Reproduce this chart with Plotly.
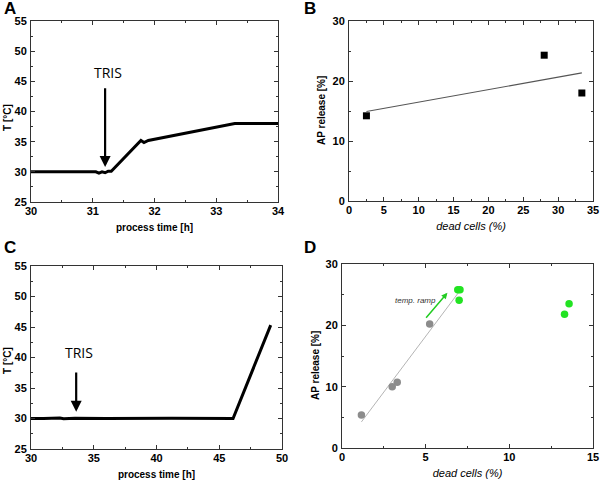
import numpy as np
import plotly.graph_objects as go

# ---- data ----
# Panel A: temperature profile
time_a = [30.0, 31.05, 31.1, 31.15, 31.2, 31.25, 31.3, 31.78, 31.83, 31.9, 33.3, 34.0]
temp_a = [30.0, 30.0, 29.8, 30.0, 29.85, 30.1, 30.1, 35.2, 34.85, 35.2, 38.0, 38.0]
tris_a = 31.2

# Panel B: AP release vs dead cells
dead_b = [2.5, 28.0, 33.4]
ap_b = [14.2, 24.3, 18.0]

# Panel C: temperature profile
time_c = [30.0, 30.5, 31.0, 32.3, 32.6, 33.5, 36.0, 41.2, 42.0, 44.8, 45.3, 46.1, 49.1]
temp_c = [30.0, 30.05, 30.0, 30.08, 29.95, 30.05, 30.0, 30.05, 30.05, 30.08, 30.0, 30.0, 45.3]
tris_c = 33.6

# Panel D: AP release vs dead cells
dead_d_grey = [1.16, 3.0, 3.3, 5.24]
ap_d_grey = [5.4, 10.0, 10.7, 20.2]
dead_d_green = [6.92, 7.05, 7.0, 13.3, 13.57]
ap_d_green = [25.8, 25.8, 24.1, 21.8, 23.5]

# ---- fits ----
pb = np.polyfit(dead_b, ap_b, 1)
fit_b_x = [min(dead_b), max(dead_b)]
fit_b_y = list(np.polyval(pb, fit_b_x))

pd_ = np.polyfit(dead_d_grey, ap_d_grey, 1)
fit_d_x = [min(dead_d_grey), dead_d_green[2]]
fit_d_y = list(np.polyval(pd_, fit_d_x))

FONT = "Liberation Sans, Arial, sans-serif"
fig = go.Figure()

fig.add_trace(go.Scatter(x=time_a, y=temp_a, mode="lines", line=dict(color="black", width=3),
                         xaxis="x", yaxis="y", showlegend=False))
fig.add_trace(go.Scatter(x=fit_b_x, y=fit_b_y, mode="lines", line=dict(color="#555555", width=1.1),
                         xaxis="x2", yaxis="y2", showlegend=False))
fig.add_trace(go.Scatter(x=dead_b, y=ap_b, mode="markers",
                         marker=dict(symbol="square", size=7, color="black"),
                         xaxis="x2", yaxis="y2", showlegend=False))
fig.add_trace(go.Scatter(x=time_c, y=temp_c, mode="lines", line=dict(color="black", width=3),
                         xaxis="x3", yaxis="y3", showlegend=False))
fig.add_trace(go.Scatter(x=fit_d_x, y=fit_d_y, mode="lines", line=dict(color="#b5b5b5", width=1),
                         xaxis="x4", yaxis="y4", showlegend=False))
fig.add_trace(go.Scatter(x=dead_d_grey, y=ap_d_grey, mode="markers",
                         marker=dict(symbol="circle", size=7.5, color="#8c8c8c"),
                         xaxis="x4", yaxis="y4", showlegend=False))
fig.add_trace(go.Scatter(x=dead_d_green, y=ap_d_green, mode="markers",
                         marker=dict(symbol="circle", size=7.5, color="#22e322"),
                         xaxis="x4", yaxis="y4", showlegend=False))

W, H = 600, 485
def dom_x(a, b):
    return [a / W, b / W]
def dom_y(top, bot):
    return [1 - bot / H, 1 - top / H]

tickfont = dict(family=FONT, size=11, color="black", weight="bold")

def axis(domain, anchor, rng, dtick, mdtick, title=None, tfont=None, standoff=2, lstand=0):
    d = dict(domain=domain, anchor=anchor, range=rng, dtick=dtick, tick0=0,
             ticks="inside", ticklen=4, tickwidth=1, tickcolor="#333",
             minor=dict(dtick=mdtick, ticks="inside", ticklen=2, tickcolor="#333"),
             showline=True, linecolor="#333", linewidth=1, mirror="allticks",
             showgrid=False, zeroline=False, tickfont=tickfont, ticklabelstandoff=lstand,
             ticklabeloverflow="allow", automargin=False)
    if title:
        d["title"] = dict(text=title, font=tfont, standoff=standoff)
    return d

bold_title = dict(family=FONT, size=10, color="black", weight="bold")
ital_title = dict(family=FONT, size=11, color="black", style="italic")

fig.update_layout(
    width=W, height=H, margin=dict(l=0, r=0, t=0, b=0),
    paper_bgcolor="white", plot_bgcolor="white",
    xaxis=axis(dom_x(31, 278), "y", [30, 34], 1, 0.5, "process time [h]", bold_title, 7, -1),
    yaxis=axis(dom_y(21, 202), "x", [25, 55], 5, 2.5, lstand=1),
    xaxis2=axis(dom_x(349, 593), "y2", [0, 35], 5, 2.5, "dead cells (%)", ital_title, 7, -1),
    yaxis2=axis(dom_y(21, 201), "x2", [0, 30], 10, 5, lstand=1),
    xaxis3=axis(dom_x(31, 282), "y3", [30, 50], 5, 2.5, "process time [h]", bold_title, 7, -1),
    yaxis3=axis(dom_y(266, 449), "x3", [25, 55], 5, 2.5, lstand=1),
    xaxis4=axis(dom_x(342, 593), "y4", [0, 15], 5, 2.5, "dead cells (%)", ital_title, 7, -1),
    yaxis4=axis(dom_y(264, 448), "x4", [0, 30], 10, 5, lstand=1),
)

ann = []
# y-axis titles
for txt, px, py in [("T [°C]", 7, 118), ("AP release [%]", 322, 111),
                    ("T [°C]", 7, 361), ("AP release [%]", 315, 366)]:
    ann.append(dict(x=px / W, y=1 - py / H, xref="paper", yref="paper", xanchor="center", yanchor="middle",
                    text=txt, textangle=-90, showarrow=False, font=bold_title))
# TRIS arrows
ann.append(dict(x=tris_a, y=30.8, ax=tris_a, ay=44.1, xref="x", yref="y", axref="x", ayref="y",
                showarrow=True, arrowhead=2, arrowsize=1, arrowwidth=2.2, arrowcolor="black", text=""))
ann.append(dict(x=31.25, y=46.5, xref="x", yref="y", text="TRIS", showarrow=False,
                font=dict(family="Open Sans, sans-serif", size=14, color="black")))
ann.append(dict(x=tris_c, y=31.1, ax=tris_c, ay=37.8, xref="x3", yref="y3", axref="x3", ayref="y3",
                showarrow=True, arrowhead=2, arrowsize=1, arrowwidth=2.2, arrowcolor="black", text=""))
ann.append(dict(x=33.8, y=40.8, xref="x3", yref="y3", text="TRIS", showarrow=False,
                font=dict(family="Open Sans, sans-serif", size=14, color="black")))
# temp. ramp arrow
ann.append(dict(x=6.3, y=25.3, ax=4.95, ay=21.0, xref="x4", yref="y4", axref="x4", ayref="y4",
                showarrow=True, arrowhead=2, arrowsize=0.8, arrowwidth=1.5, arrowcolor="#22cc22", text=""))
ann.append(dict(x=4.4, y=24.1, xref="x4", yref="y4", text="temp. ramp", showarrow=False,
                font=dict(family=FONT, size=8, color="#333", style="italic")))
# panel letters
for letter, px, py in [("A", 2, 8), ("B", 302, 8), ("C", 2, 248), ("D", 302, 248)]:
    ann.append(dict(x=px / W, y=1 - py / H, xref="paper", yref="paper", xanchor="left", yanchor="middle",
                    text="<b>%s</b>" % letter, showarrow=False,
                    font=dict(family=FONT, size=17, color="black")))
fig.update_layout(annotations=ann)

fig.write_html("out.html", config={"displayModeBar": False},
               post_script="document.body.style.margin='0';document.body.style.padding='0';")
